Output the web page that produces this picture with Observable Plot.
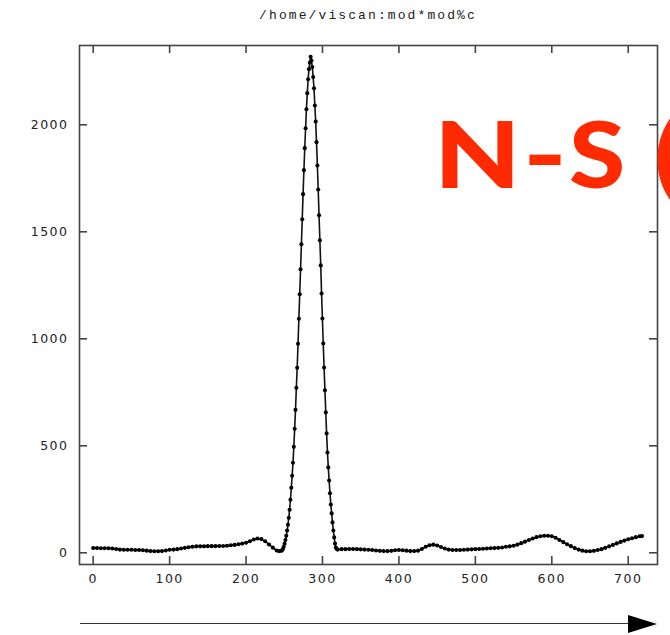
<!DOCTYPE html>
<html>
<head>
<meta charset="utf-8">
<script src="https://cdn.jsdelivr.net/npm/d3@7"></script>
<script src="https://cdn.jsdelivr.net/npm/@observablehq/plot@0.6"></script>
<style>
  html, body { margin: 0; padding: 0; background: #fff; }
  #wrap { position: relative; width: 670px; height: 635px; overflow: hidden; }
  #title { position: absolute; left: 0; width: 736px; top: 8px; text-align: center;
           font-family: "Liberation Mono", monospace; font-size: 13px; letter-spacing: 2.1px; color: #222; line-height: 16px; }
  .ch { position: absolute; top: 107px; font-family: Lato, sans-serif; font-weight: 900;
        font-size: 92px; line-height: 92px; color: #ff2a00; white-space: nowrap; transform-origin: 0 0; }
  #arrow { position: absolute; left: 0; top: 0; pointer-events: none; }
</style>
</head>
<body>
<div id="wrap">
  <div id="chart"></div>
  <div id="title">/home/viscan:mod*mod%c</div>
  <span class="ch" style="left:434px; transform: scaleX(1.22);">N</span>
  <span class="ch" style="left:523px; transform: scaleX(1.28);">-</span>
  <span class="ch" style="left:569px; transform: scaleX(1.11);">S</span>
  <span class="ch" style="left:654px; transform: scaleX(1.15);">(</span>
  <svg id="arrow" width="670" height="635">
    <line x1="80" y1="623.5" x2="632" y2="623.5" stroke="#333" stroke-width="1.2"></line>
    <polygon points="628,615 657,624 628,633" fill="#000"></polygon>
  </svg>
</div>
<script>
// ---- tick labels ----
const xTicks = [0, 100, 200, 300, 400, 500, 600, 700];
const yTicks = [0, 500, 1000, 1500, 2000];

// ---- baseline before the peak ----
const leftX = [0,5,10,15,20,25,30,35,40,45,50,55,60,65,70,75,80,85,90,95,100,105,110,115,120,125,130,135,140,145,150,155,160,165,170,175,180,185,190,195,200,205,210,215,220,225,230,235,240,243];
const leftY = [22,22,21,21,21,20,18,15,14,14,14,13,13,12,10,8,7,7,8,11,14,15,17,20,23,26,28,30,30,30,31,31,31,32,32,33,35,37,40,43,47,54,62,67,64,54,39,24,11,8];

// ---- main peak ----
const peakX = [246.0,247.1,248.2,249.3,250.4,251.5,252.6,253.7,254.8,255.9,257.0,258.1,259.2,260.3,261.4,262.5,263.6,264.7,265.8,266.9,268.0,269.1,270.2,271.3,272.4,273.5,274.6,275.7,276.8,277.9,279.0,280.1,281.2,282.3,283.4,284.5,285.6,286.7,287.8,288.9,290.0,291.1,292.2,293.3,294.4,295.5,296.6,297.7,298.8,299.9,301.0,302.1,303.2,304.3,305.4,306.5,307.6,308.7,309.8,310.9,312.0,313.1,314.2,315.3,316.4,317.5,318.6,319.7];
const peakY = [9,12,18,28,42,60,80,104,131,164,201,248,304,360,421,495,580,668,771,865,977,1094,1208,1325,1442,1559,1676,1788,1891,1984,2073,2148,2213,2260,2290,2318,2300,2270,2223,2171,2090,2015,1919,1810,1698,1577,1460,1343,1212,1095,978,866,759,656,558,469,399,338,278,226,184,142,104,72,43,25,18,15];

// ---- baseline after the peak ----
const rightX = [325,330,335,340,345,350,355,360,365,370,375,380,385,390,395,400,405,410,415,420,425,430,435,440,445,450,455,460,465,470,475,480,485,490,495,500,505,510,515,520,525,530,535,540,545,550,555,560,565,570,575,580,585,590,595,600,605,610,615,620,625,630,635,640,645,650,655,660,665,670,675,680,685,690,695,700,705,710,715,718];
const rightY = [17,17,18,18,17,16,15,14,13,11,9,8,8,9,12,13,12,10,8,8,10,18,28,35,38,34,27,20,15,13,13,13,14,15,16,17,18,19,20,21,22,23,25,28,30,33,38,45,52,60,67,73,77,80,80,77,70,60,50,40,31,22,15,10,7,7,9,13,17,23,30,37,44,51,57,63,68,73,77,78];

const data = [];
leftX.forEach((x, i) => data.push({x, y: leftY[i]}));
peakX.forEach((x, i) => data.push({x, y: peakY[i]}));
rightX.forEach((x, i) => data.push({x, y: rightY[i]}));

const W = 670, H = 635, mT = 45, mB = 71, mL = 79, mR = 13;
const pw = W - mL - mR, ph = H - mT - mB, tl = 8;

const chart = Plot.plot({
  width: W, height: H,
  marginTop: mT, marginBottom: mB, marginLeft: mL, marginRight: mR,
  style: "font-family: 'DejaVu Sans', sans-serif; font-size: 12.5px; letter-spacing: 1.5px; color: #222; background: transparent;",
  x: {domain: [-17.9, 738.3]},
  y: {domain: [-54.7, 2370.6]},
  marks: [
    Plot.line(data, {x: "x", y: "y", stroke: "#111", strokeWidth: 1.6}),
    Plot.dot(data, {x: "x", y: "y", r: 2.05, fill: "#000", stroke: null}),
    Plot.tickX(xTicks, {x: d => d, insetTop: ph - tl, stroke: "#444", strokeWidth: 1.6}),
    Plot.tickX(xTicks, {x: d => d, insetBottom: ph - tl, stroke: "#444", strokeWidth: 1.6}),
    Plot.tickY(yTicks, {y: d => d, insetRight: pw - tl, stroke: "#444", strokeWidth: 1.6}),
    Plot.tickY(yTicks, {y: d => d, insetLeft: pw - tl, stroke: "#444", strokeWidth: 1.6}),
    Plot.frame({stroke: "#444", strokeWidth: 1.6}),
    Plot.axisX(xTicks, {anchor: "bottom", tickSize: 0, tickPadding: 10, label: null}),
    Plot.axisY(yTicks, {anchor: "left", tickSize: 0, tickPadding: 11, label: null, tickFormat: d => String(d)})
  ]
});
document.getElementById("chart").appendChild(chart);
</script>
</body>
</html>
